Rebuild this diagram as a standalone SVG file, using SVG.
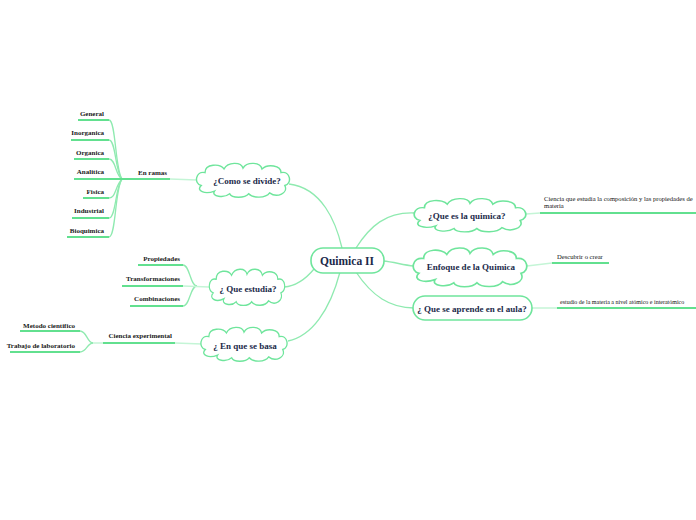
<svg xmlns="http://www.w3.org/2000/svg" xmlns:xlink="http://www.w3.org/1999/xlink" width="696" height="520" viewBox="0 0 696 520">
<style>
.bg{fill:#ffffff}
.cl{fill:#ffffff;stroke:#6fe59c;stroke-width:1.5;vector-effect:non-scaling-stroke}
.main{fill:#ffffff;stroke:#6fe59c;stroke-width:1.6}
.ul{fill:none;stroke:#62e08f;stroke-width:2}
.con{fill:none;stroke:#8feab0;stroke-width:1.3}
.lt{fill:none;stroke:#c4f5d6;stroke-width:1.5}
.tm{font-family:"Liberation Serif","DejaVu Serif",serif;font-weight:bold;fill:#1b2a4a;font-size:11.5px;text-anchor:middle}
.tc{font-family:"Liberation Serif","DejaVu Serif",serif;font-weight:bold;fill:#1b2a4a;font-size:9px;text-anchor:middle}
.tl{font-family:"Liberation Serif","DejaVu Serif",serif;font-weight:bold;fill:#1a1a1a;font-size:7px;text-anchor:end}
.tr{font-family:"Liberation Serif","DejaVu Serif",serif;fill:#111111;font-size:6.6px}
</style>
<defs>
<path id="cloud" d="M-44,6 C-52,4 -50,-10 -40,-8 C-40,-18 -24,-18 -20,-12 C-16,-20 -2,-20 0,-13 C4,-20 18,-20 20,-12 C26,-18 40,-16 40,-8 C50,-10 52,4 44,6 C48,14 36,20 28,14 C24,20 10,20 6,15 C2,20 -12,20 -14,15 C-20,20 -34,18 -30,12 C-40,16 -50,12 -44,6 Z"/>
</defs>
<rect class="bg" x="0" y="0" width="696" height="520"/>
<g id="connectors">
<path class="con" d="M289,184 C322,188 336,222 342,248"/>
<path class="con" d="M356,248 C370,226 386,212 414,213"/>
<path class="con" d="M383,261 C395,262 402,265 414,266"/>
<path class="con" d="M356,272 C372,296 390,308 414,308"/>
<path class="con" d="M314,269 C305,280 296,286 284,287"/>
<path class="con" d="M340,272 C330,310 312,336 288,341"/>
<path class="lt" d="M170,179 L197,180"/>
<path class="con" d="M109,120 C116,120 115,170 122,179"/>
<path class="con" d="M109,140 C116,140 115,172 122,179"/>
<path class="con" d="M109,159 C116,159 115,175 122,179"/>
<path class="con" d="M109,198 C116,198 115,186 122,179"/>
<path class="con" d="M109,218 C116,218 115,188 122,179"/>
<path class="con" d="M109,237 C116,237 115,188 122,179"/>
<path class="con" d="M183,265 C190,265 190,286 197,286"/>
<path class="con" d="M183,306 C190,306 190,286 197,286"/>
<path class="lt" d="M183,286 L209,287"/>
<path class="con" d="M80,331 C87,331 87,343 93,343"/>
<path class="con" d="M80,352 C87,352 87,343 93,343"/>
<path class="lt" d="M93,343 L103,343"/>
<path class="lt" d="M175,343 L202,344"/>
<path class="lt" d="M526,214 L540,213"/>
<path class="lt" d="M527,266 L552,263"/>
<path class="lt" d="M532,308 L557,308"/>
</g>
<g id="n-main">
<rect class="main" x="311" y="248" width="73" height="25" rx="12"/>
<text class="tm" x="347" y="265">Quimica II</text>
</g>
<g id="n-divide">
<use href="#cloud" class="cl" transform="translate(243,180) scale(0.95,0.92)"/>
<text class="tc" x="247" y="184">¿Como se divide?</text>
</g>
<g id="n-estudia">
<use href="#cloud" class="cl" transform="translate(247,287) scale(0.77,0.98)"/>
<text class="tc" x="248" y="292">¿ Que estudia?</text>
</g>
<g id="n-basa">
<use href="#cloud" class="cl" transform="translate(244,344) scale(0.88,0.92)"/>
<text class="tc" x="245" y="349">¿ En  que se basa</text>
</g>
<g id="n-quees">
<use href="#cloud" class="cl" transform="translate(470,215) scale(1.14,0.9)"/>
<text class="tc" x="467" y="219">¿Que es la quimica?</text>
</g>
<g id="n-enfoque">
<use href="#cloud" class="cl" transform="translate(470,267) scale(1.16,1.05)"/>
<text class="tc" x="471" y="270">Enfoque de la Quimica</text>
</g>
<g id="n-aprende">
<rect class="main" x="413" y="296" width="119" height="24" rx="12"/>
<text class="tc" x="472" y="312">¿ Que se aprende  en  el aula?</text>
</g>
<g id="n-enramas">
<line class="ul" x1="122" y1="179" x2="170" y2="179"/>
<text class="tl" x="167" y="175">En ramas</text>
</g>
<g id="n-general"><line class="ul" x1="78" y1="120" x2="109" y2="120"/><text class="tl" x="104" y="116">General</text></g>
<g id="n-inorganica"><line class="ul" x1="71" y1="140" x2="109" y2="140"/><text class="tl" x="104" y="135">Inorganica</text></g>
<g id="n-organica"><line class="ul" x1="74" y1="159" x2="109" y2="159"/><text class="tl" x="104" y="155">Organica</text></g>
<g id="n-analitica"><line class="ul" x1="74" y1="179" x2="122" y2="179"/><text class="tl" x="104" y="174">Analitica</text></g>
<g id="n-fisica"><line class="ul" x1="83" y1="198" x2="109" y2="198"/><text class="tl" x="104" y="194">Fisica</text></g>
<g id="n-industrial"><line class="ul" x1="72" y1="218" x2="109" y2="218"/><text class="tl" x="104" y="213">Industrial</text></g>
<g id="n-bioquimica"><line class="ul" x1="67" y1="237" x2="109" y2="237"/><text class="tl" x="104" y="233">Bioquimica</text></g>
<g id="n-propiedades"><line class="ul" x1="138" y1="265" x2="183" y2="265"/><text class="tl" x="180" y="261">Propiedades</text></g>
<g id="n-transformaciones"><line class="ul" x1="122" y1="286" x2="183" y2="286"/><text class="tl" x="180" y="281">Transformaciones</text></g>
<g id="n-combinaciones"><line class="ul" x1="130" y1="306" x2="183" y2="306"/><text class="tl" x="180" y="301">Combinaciones</text></g>
<g id="n-ciencia"><line class="ul" x1="103" y1="343" x2="175" y2="343"/><text class="tl" x="172" y="338">Ciencia experimental</text></g>
<g id="n-metodo"><line class="ul" x1="20" y1="331" x2="80" y2="331"/><text class="tl" x="75" y="328">Metodo cientifico</text></g>
<g id="n-trabajo"><line class="ul" x1="10" y1="352" x2="80" y2="352"/><text class="tl" x="75" y="348">Trabajo de laboratorio</text></g>
<g id="n-def"><line class="ul" x1="540" y1="213" x2="696" y2="213"/><text class="tr" x="544" y="201">Ciencia que estudia la composición y las propiedades de</text><text class="tr" x="544" y="208">materia</text></g>
<g id="n-descubrir"><line class="ul" x1="552" y1="263" x2="609" y2="263"/><text class="tr" x="557" y="259">Descubrir o crear</text></g>
<g id="n-estudio"><line class="ul" x1="557" y1="308" x2="696" y2="308"/><text class="tr" x="560" y="304" style="font-size:6px">estudio de la materia a nivel atómico e interatómico</text></g>
</svg>
